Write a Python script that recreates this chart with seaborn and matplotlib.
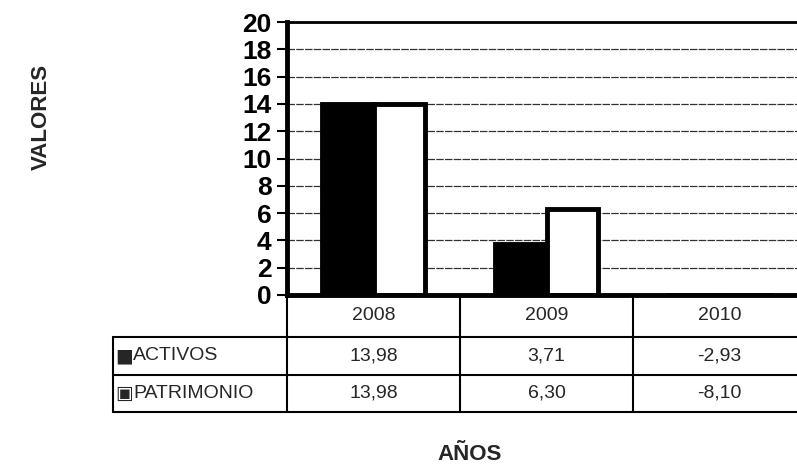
import matplotlib
matplotlib.use("Agg")
import matplotlib.pyplot as plt
import seaborn as sns
import pandas as pd

years = ["2008", "2009", "2010"]
series = ["ACTIVOS", "PATRIMONIO"]
activos = [13.98, 3.71, -2.93]
patrimonio = [13.98, 6.30, -8.10]
yticks = list(range(0, 21, 2))

df = pd.DataFrame({
    "year": years * 2,
    "serie": [series[0]] * 3 + [series[1]] * 3,
    "value": activos + patrimonio,
})

sns.set_theme(style="white")
plt.rcParams["font.family"] = ["Liberation Sans", "DejaVu Sans"]

fig = plt.figure(figsize=(7.97, 4.73), dpi=100)
ax = fig.add_axes([287 / 797, 1 - 295 / 473, 519 / 797, 273 / 473])

for y in yticks[1:]:
    ax.axhline(y, color="#333333", lw=0.9, ls=(0, (6, 1)), zorder=0)

sns.barplot(data=df, x="year", y="value", hue="serie", order=years,
            hue_order=series, palette=["black", "white"], edgecolor="black",
            linewidth=3.5, width=0.6, legend=False, ax=ax, saturation=1)

ax.set_ylim(0, 20)
ax.set_xlim(-0.5, 2.5)
ax.set_yticks(yticks)
ax.set_yticklabels([str(v) for v in yticks], fontsize=19, fontweight="bold")
ax.tick_params(axis="y", direction="out", length=7, width=1.5, pad=4, left=True, colors="black")
ax.tick_params(axis="x", bottom=False, labelbottom=False)
ax.set_xlabel("")
ax.set_ylabel("")
for side in ["left", "bottom"]:
    ax.spines[side].set_linewidth(3.5)
    ax.spines[side].set_color("black")
ax.spines["top"].set_linewidth(2)
ax.spines["top"].set_color("black")
ax.spines["right"].set_visible(False)

# data table below the axes
tr = ax.get_xaxis_transform()
xl = -0.5 - 174 / 173
rows_y = [0, -42 / 273, -80 / 273, -117 / 273]
lw = 1.5
for yb in rows_y[1:]:
    ax.plot([xl, 2.5], [yb, yb], color="black", lw=lw, transform=tr, clip_on=False)
for xb in [-0.5, 0.5, 1.5, 2.5]:
    ax.plot([xb, xb], [0, rows_y[-1]], color="black", lw=lw, transform=tr, clip_on=False)
ax.plot([xl, xl], [rows_y[1], rows_y[-1]], color="black", lw=lw, transform=tr, clip_on=False)

def fmt(v):
    return f"{v:.2f}".replace(".", ",")

fs = 14
for i, yr in enumerate(years):
    ax.text(i, (rows_y[0] + rows_y[1]) / 2, yr, transform=tr, ha="center", va="center",
            fontsize=fs, clip_on=False)
    ax.text(i, (rows_y[1] + rows_y[2]) / 2, fmt(activos[i]), transform=tr, ha="center",
            va="center", fontsize=fs, clip_on=False)
    ax.text(i, (rows_y[2] + rows_y[3]) / 2, fmt(patrimonio[i]), transform=tr, ha="center",
            va="center", fontsize=fs, clip_on=False)

markers = ["■", "▣"]
for r, name in enumerate(series):
    yc = (rows_y[r + 1] + rows_y[r + 2]) / 2
    ax.text(xl + 2 / 173, yc, markers[r], transform=tr, ha="left", va="center",
            fontsize=13.5, family="DejaVu Sans", clip_on=False)
    ax.text(xl + 20 / 173, yc, name, transform=tr, ha="left", va="center",
            fontsize=fs, clip_on=False)

fig.text(41 / 797, 1 - 117 / 473, "VALORES", rotation=90, ha="center", va="center",
         fontsize=16, fontweight="bold")
fig.text(470 / 797, 1 - 454 / 473, "AÑOS", ha="center", va="center",
         fontsize=16, fontweight="bold")

fig.savefig("out.png", dpi=100)
